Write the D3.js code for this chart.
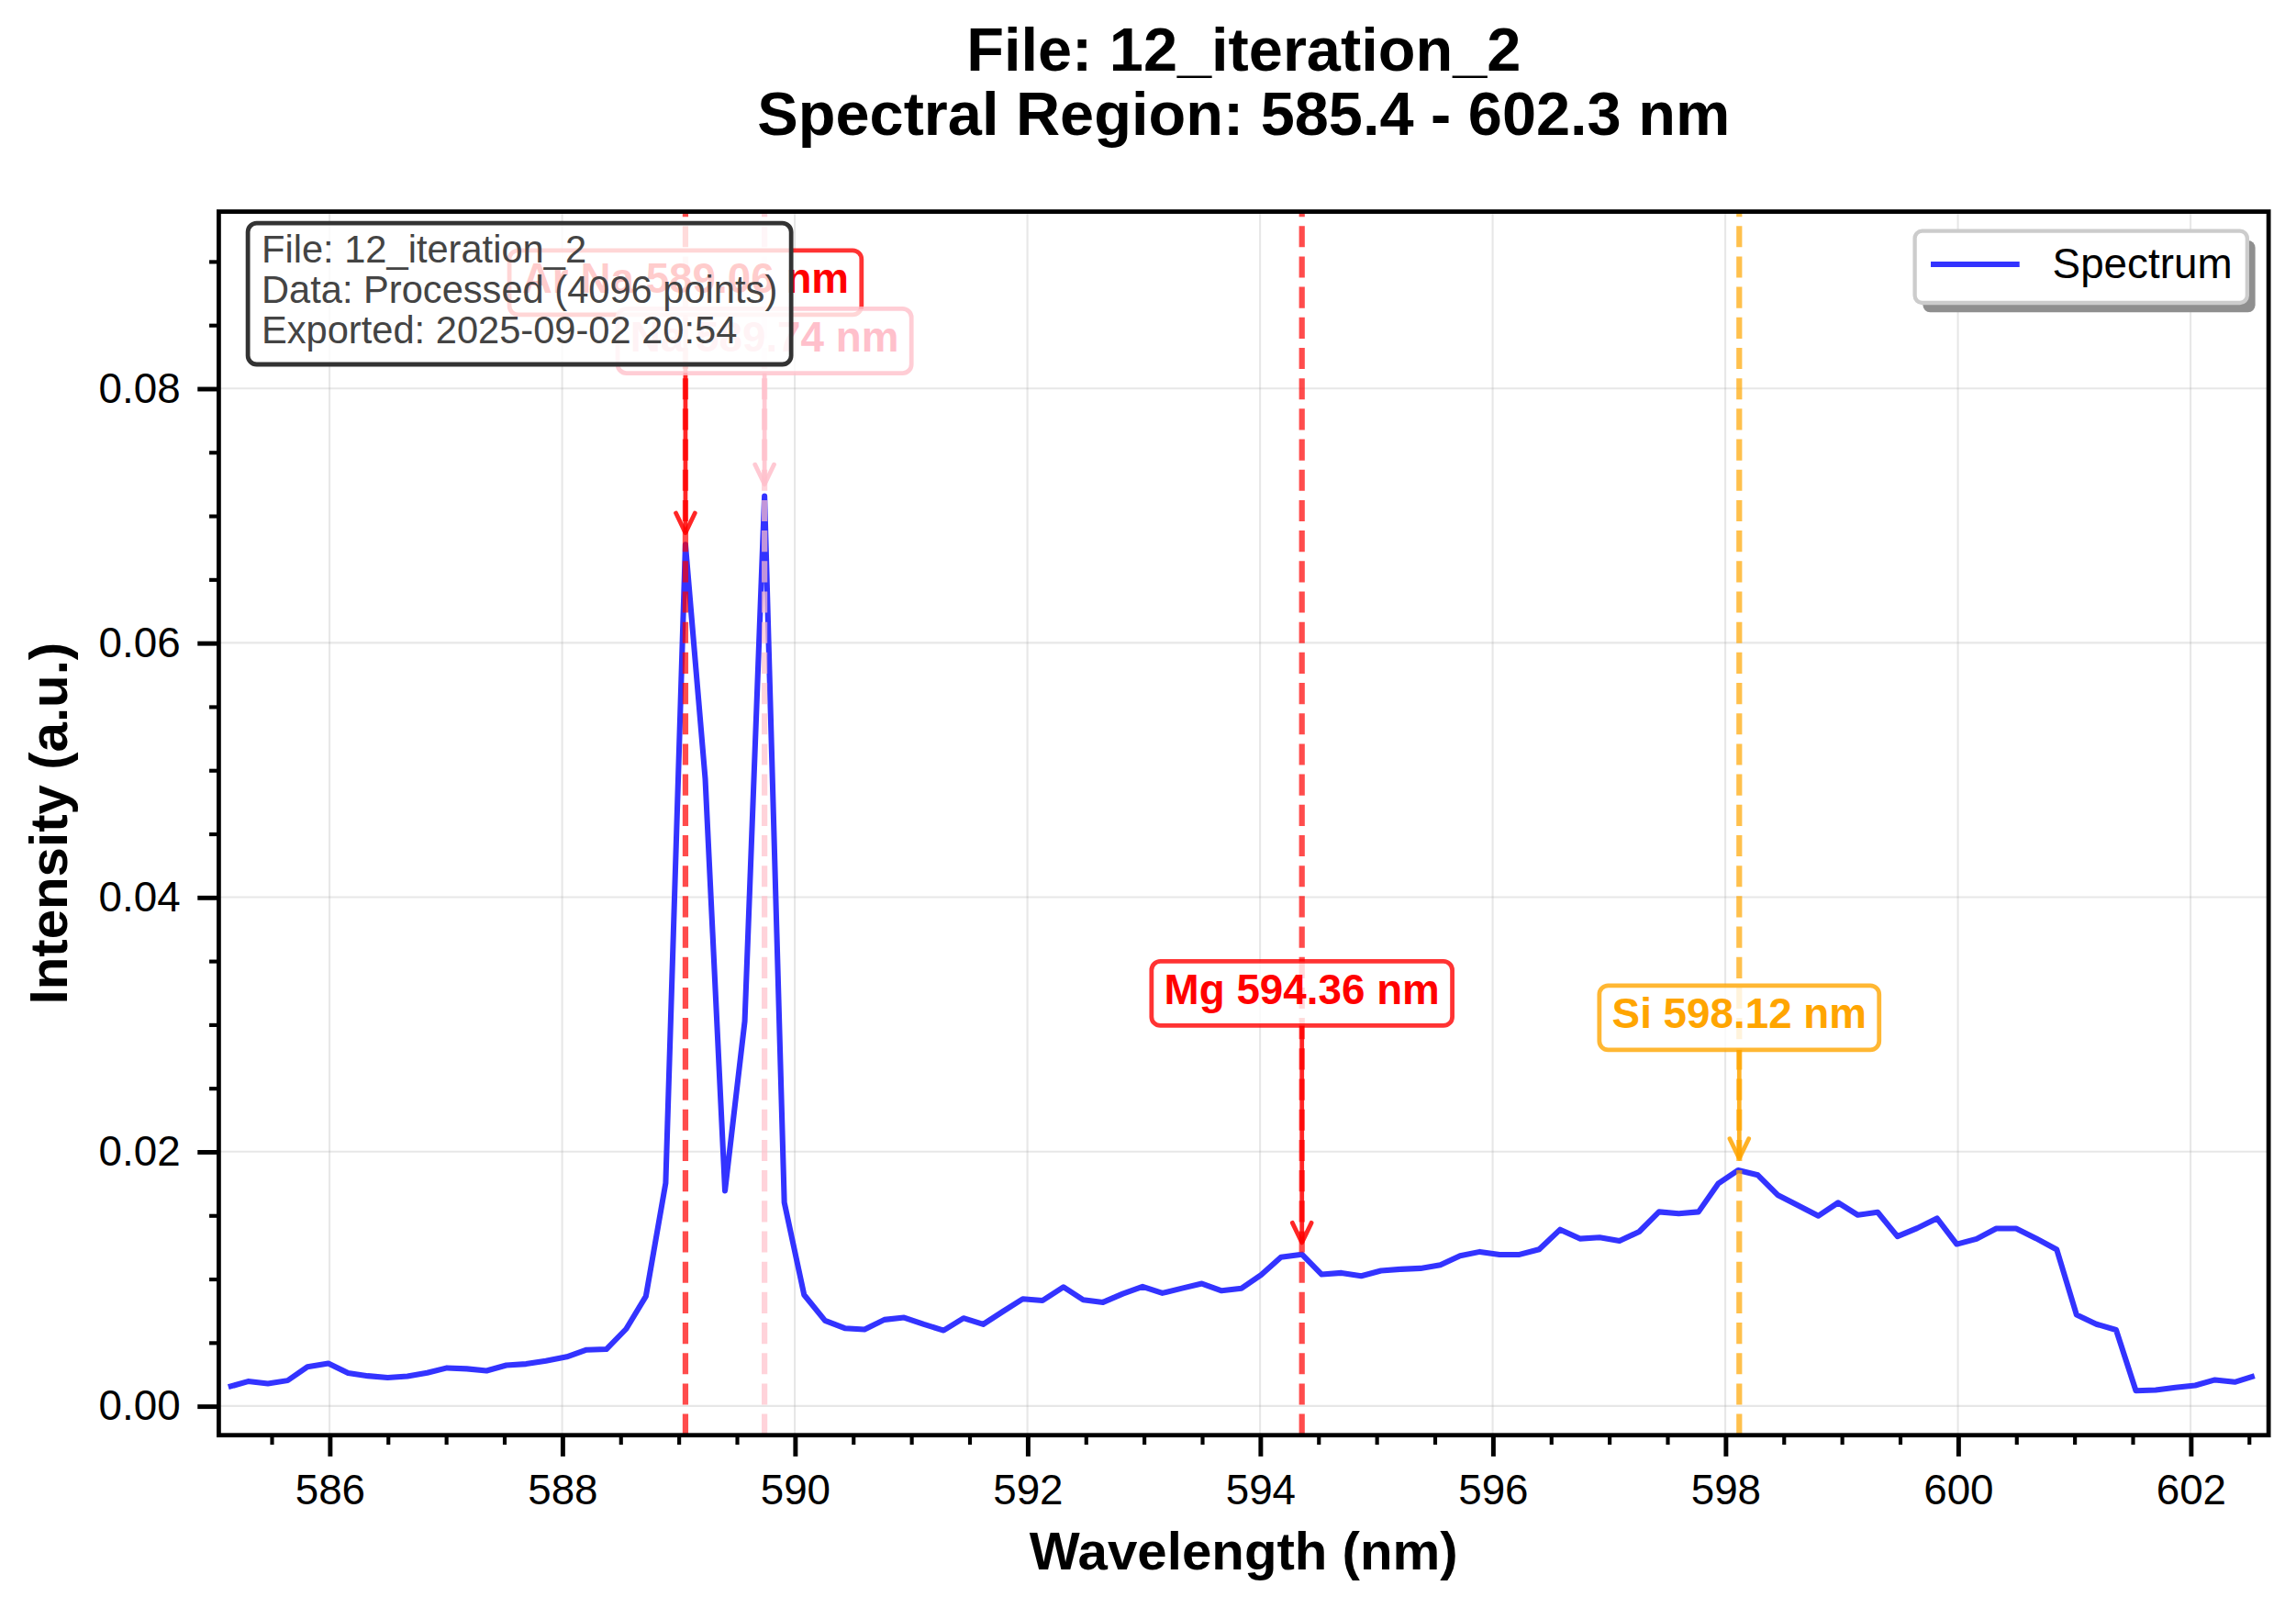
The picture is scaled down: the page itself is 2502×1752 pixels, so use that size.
<!DOCTYPE html>
<html><head><meta charset="utf-8">
<script src="https://cdn.jsdelivr.net/npm/d3@7"></script>
<style>html,body{margin:0;padding:0;background:#fff;} svg{display:block;}</style>
</head><body>
<svg id="chart" width="2502" height="1752" viewBox="0 0 1568 1098"></svg>
<script>
// ---------------- data ----------------
const wavelengths = [
585.13,585.30,585.47,585.64,585.81,585.99,586.16,586.33,586.50,586.67,
586.84,587.01,587.18,587.35,587.52,587.69,587.86,588.04,588.21,588.38,
588.55,588.72,588.89,589.06,589.23,589.40,589.57,589.74,589.91,590.08,
590.26,590.43,590.60,590.77,590.94,591.11,591.28,591.45,591.62,591.79,
591.96,592.13,592.31,592.48,592.65,592.82,592.99,593.16,593.33,593.50,
593.67,593.84,594.01,594.18,594.36,594.53,594.70,594.87,595.04,595.21,
595.38,595.55,595.72,595.89,596.06,596.23,596.40,596.58,596.75,596.92,
597.09,597.26,597.43,597.60,597.77,597.94,598.11,598.28,598.45,598.62,
598.80,598.97,599.14,599.31,599.48,599.65,599.82,599.99,600.16,600.33,
600.50,600.67,600.85,601.02,601.19,601.36,601.53,601.70,601.87,602.04,
602.21,602.38,602.55];
const intensity = [
0.00149,0.00193,0.00176,0.00200,0.00308,0.00335,0.00258,0.00236,0.00222,0.00234,
0.00260,0.00299,0.00292,0.00277,0.00320,0.00330,0.00354,0.00386,0.00441,0.00446,
0.00605,0.00862,0.01752,0.06772,0.04933,0.01692,0.03025,0.07154,0.01600,0.00874,
0.00671,0.00611,0.00601,0.00678,0.00695,0.00642,0.00594,0.00690,0.00642,0.00743,
0.00841,0.00829,0.00935,0.00834,0.00815,0.00882,0.00938,0.00887,0.00925,0.00962,
0.00906,0.00925,0.01031,0.01170,0.01192,0.01034,0.01046,0.01022,0.01063,0.01075,
0.01082,0.01108,0.01180,0.01212,0.01190,0.01190,0.01231,0.01387,0.01315,0.01325,
0.01298,0.01370,0.01526,0.01512,0.01526,0.01748,0.01853,0.01815,0.01659,0.01579,
0.01494,0.01598,0.01501,0.01523,0.01333,0.01398,0.01475,0.01272,0.01313,0.01395,
0.01395,0.01318,0.01229,0.00716,0.00643,0.00598,0.00120,0.00125,0.00145,0.00161,
0.00205,0.00188,0.00236];
const xTickValues = [586,588,590,592,594,596,598,600,602];
const xMinorTickValues = [585.5,586.5,587,587.5,588.5,589,589.5,590.5,591,591.5,592.5,593,593.5,594.5,595,595.5,596.5,597,597.5,598.5,599,599.5,600.5,601,601.5,602.5];
const yTickValues = [0,0.02,0.04,0.06,0.08];
const yMinorTickValues = [0.005,0.01,0.015,0.025,0.03,0.035,0.045,0.05,0.055,0.065,0.07,0.075,0.085,0.09];
const lineWavelengths = [589.06, 589.74, 594.36, 598.12];
const lineLabels = ["Ar Na 589.06 nm", "Na 589.74 nm", "Mg 594.36 nm", "Si 598.12 nm"];
const lineColors = ["#ff0000", "#ffc0cb", "#ff0000", "#ffa500"];
const labelLevels = [0.08832, 0.08373, 0.03243, 0.03052];
const infoLines = ["File: 12_iteration_2", "Data: Processed (4096 points)", "Exported: 2025-09-02 20:54"];
const titleLines = ["File: 12_iteration_2", "Spectral Region: 585.4 - 602.3 nm"];
const legendLabel = "Spectrum";
const xLabel = "Wavelength (nm)";
const yLabel = "Intensity (a.u.)";
const xDomain = [585.048, 602.671];
const yDomain = [-0.0023, 0.0939];

// ---------------- layout ----------------
const FONT = "'Liberation Sans', Arial, Helvetica, sans-serif";
const L = 149.4, R = 1549.3, T = 144.5, B = 980;
const svg = d3.select("#chart");
svg.append("rect").attr("width",1568).attr("height",1098).attr("fill","#fff");

const x = d3.scaleLinear().domain(xDomain).range([L, R]);
const y = d3.scaleLinear().domain(yDomain).range([B, T]);
const spectrum = wavelengths.map((w,i)=>[w, intensity[i]]);

svg.append("clipPath").attr("id","clip").append("rect")
  .attr("x",L).attr("y",T).attr("width",R-L).attr("height",B-T);

// grid
const grid = svg.append("g");
grid.selectAll("line.gx").data(xTickValues).join("line")
  .attr("x1",d=>x(d)).attr("x2",d=>x(d)).attr("y1",T).attr("y2",B)
  .attr("stroke","#b0b0b0").attr("stroke-opacity",0.3).attr("stroke-width",1.3);
grid.selectAll("line.gy").data(yTickValues).join("line")
  .attr("y1",d=>y(d)).attr("y2",d=>y(d)).attr("x1",L).attr("x2",R)
  .attr("stroke","#b0b0b0").attr("stroke-opacity",0.3).attr("stroke-width",1.3);

const plot = svg.append("g").attr("clip-path","url(#clip)");
// spectrum
plot.append("path").datum(spectrum)
  .attr("d", d3.line().x(d=>x(d[0])).y(d=>y(d[1])))
  .attr("fill","none").attr("stroke","#3333ff").attr("stroke-width",3.8)
  .attr("stroke-linejoin","round");

// vertical dashed lines
plot.selectAll("line.vl").data(lineWavelengths).join("line")
  .attr("x1",d=>x(d)).attr("x2",d=>x(d)).attr("y1",B).attr("y2",T)
  .attr("stroke",(d,i)=>lineColors[i]).attr("stroke-opacity",0.7)
  .attr("stroke-width",3.9).attr("stroke-dasharray","14.5,6.3");

// annotations
function nearestIntensity(w){
  const i = d3.leastIndex(wavelengths, a => Math.abs(a - w));
  return intensity[i];
}
const AF = 28.7;
const ann = svg.append("g");
lineWavelengths.forEach((w,i)=>{
  const g = ann.append("g");
  const cx = x(w), cy = y(labelLevels[i]);
  const col = lineColors[i];
  const txt = g.append("text").attr("x",cx).attr("y",cy + 0.253*AF)
    .attr("text-anchor","middle").attr("font-family",FONT).attr("font-weight","bold")
    .attr("font-size",AF).attr("fill",col).text(lineLabels[i]);
  const tw = txt.node().getComputedTextLength();
  const pad = 0.3*AF;
  const bw = tw + 2*pad, bh = 0.93*AF + 2*pad;
  const boxBottom = cy + bh/2;
  const tipY = y(nearestIntensity(w)) - 8;
  // arrow
  g.insert("line","text").attr("x1",cx).attr("x2",cx).attr("y1",boxBottom).attr("y2",tipY)
    .attr("stroke",col).attr("stroke-opacity",0.85).attr("stroke-width",3);
  g.insert("path","text").attr("d",`M${cx-6.5},${tipY-13.5}L${cx},${tipY}L${cx+6.5},${tipY-13.5}`)
    .attr("fill","none").attr("stroke",col).attr("stroke-opacity",0.85).attr("stroke-width",3)
    .attr("stroke-linejoin","round").attr("stroke-linecap","round");
  g.insert("rect","text").attr("x",cx-bw/2).attr("y",cy-bh/2).attr("width",bw).attr("height",bh)
    .attr("rx",6).attr("ry",6).attr("fill","#fff").attr("fill-opacity",0.8)
    .attr("stroke",col).attr("stroke-opacity",0.8).attr("stroke-width",3);
});

// info box
const IF = 26.1;
const info = svg.append("g");
const infoX = 178.6, infoBase = [179.2, 206.8, 234.4];
const infoTexts = info.selectAll("text").data(infoLines).join("text")
  .attr("x",infoX).attr("y",(d,i)=>infoBase[i])
  .attr("font-family",FONT).attr("font-size",IF).attr("fill","#444").text(d=>d);
let maxW = 0; infoTexts.each(function(){ maxW = Math.max(maxW, this.getComputedTextLength()); });
info.insert("rect","text").attr("x",infoX-0.3*IF-1.5).attr("y",152.4)
  .attr("width",maxW+0.6*IF+3).attr("height",96.4).attr("rx",6).attr("ry",6)
  .attr("fill","#fff").attr("fill-opacity",0.8).attr("stroke","#333").attr("stroke-width",3);

// axes ticks
function styleAxis(g, w){
  g.select(".domain").remove();
  g.selectAll(".tick line").attr("stroke","#000").attr("stroke-width",w);
  g.selectAll(".tick text").attr("font-family",FONT).attr("font-size",28.7).attr("fill","#000");
}
svg.append("g").attr("transform",`translate(0,${B})`)
  .call(d3.axisBottom(x).tickValues(xTickValues).tickSize(14.5).tickPadding(12.6).tickFormat(d3.format("d")))
  .call(g=>styleAxis(g,3.1));
svg.append("g").attr("transform",`translate(0,${B})`)
  .call(d3.axisBottom(x).tickValues(xMinorTickValues).tickSize(6.5).tickFormat(""))
  .call(g=>styleAxis(g,2.6));
svg.append("g").attr("transform",`translate(${L},0)`)
  .call(d3.axisLeft(y).tickValues(yTickValues).tickSize(14.5).tickPadding(11.7).tickFormat(d3.format(".2f")))
  .call(g=>styleAxis(g,3.1));
svg.append("g").attr("transform",`translate(${L},0)`)
  .call(d3.axisLeft(y).tickValues(yMinorTickValues).tickSize(6.5).tickFormat(""))
  .call(g=>styleAxis(g,2.6));

// spines
svg.append("rect").attr("x",L).attr("y",T).attr("width",R-L).attr("height",B-T)
  .attr("fill","none").attr("stroke","#000").attr("stroke-width",3);

// legend
const lg = svg.append("g");
const lgX = 1307.7, lgY = 157.7, lgW = 227, lgH = 49.1;
lg.append("rect").attr("x",lgX+5.5).attr("y",lgY+6.5).attr("width",lgW).attr("height",lgH)
  .attr("rx",5).attr("fill","#8f8f8f");
lg.append("rect").attr("x",lgX).attr("y",lgY).attr("width",lgW).attr("height",lgH)
  .attr("rx",5).attr("fill","#fff").attr("stroke","#cccccc").attr("stroke-width",2.7);
lg.append("line").attr("x1",1318.6).attr("x2",1379.2).attr("y1",180.5).attr("y2",180.5)
  .attr("stroke","#3333ff").attr("stroke-width",3.8);
lg.append("text").attr("x",1401.7).attr("y",190).attr("font-family",FONT)
  .attr("font-size",28.7).attr("fill","#000").text(legendLabel);

// title
const CX = (L+R)/2;
svg.selectAll("text.title").data(titleLines).join("text").attr("class","title")
  .attr("x",CX).attr("y",(d,i)=>[48.5,91.9][i]).attr("text-anchor","middle")
  .attr("font-family",FONT).attr("font-weight","bold").attr("font-size",41.8)
  .attr("fill","#000").text(d=>d);

// axis labels
svg.append("text").attr("x",CX).attr("y",1071.6).attr("text-anchor","middle")
  .attr("font-family",FONT).attr("font-weight","bold").attr("font-size",36.5).text(xLabel);
svg.append("text").attr("transform",`translate(46,${(T+B)/2}) rotate(-90)`).attr("text-anchor","middle")
  .attr("font-family",FONT).attr("font-weight","bold").attr("font-size",36.5).text(yLabel);
</script>
</body></html>
